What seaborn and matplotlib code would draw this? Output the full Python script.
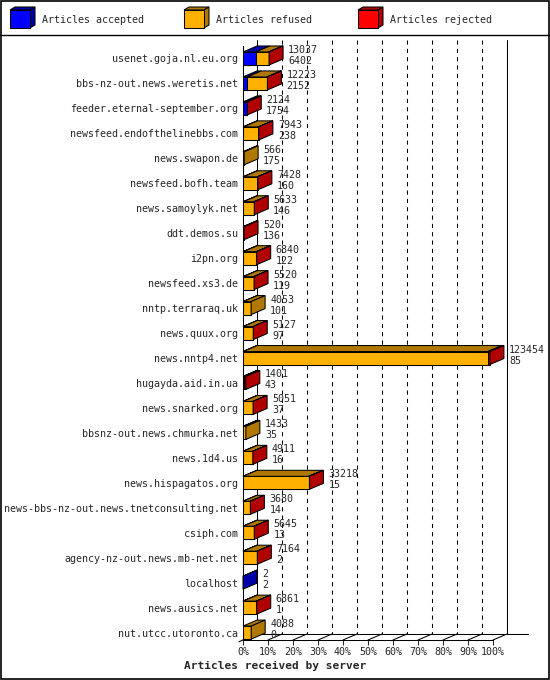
import numpy as np
import matplotlib
matplotlib.use("Agg")
import matplotlib.pyplot as plt
from matplotlib.patches import Polygon, Rectangle
import seaborn as sns

# data
hosts = ['usenet.goja.nl.eu.org', 'bbs-nz-out.news.weretis.net', 'feeder.eternal-september.org',
         'newsfeed.endofthelinebbs.com', 'news.swapon.de', 'newsfeed.bofh.team', 'news.samoylyk.net',
         'ddt.demos.su', 'i2pn.org', 'newsfeed.xs3.de', 'nntp.terraraq.uk', 'news.quux.org',
         'news.nntp4.net', 'hugayda.aid.in.ua', 'news.snarked.org', 'bbsnz-out.news.chmurka.net',
         'news.1d4.us', 'news.hispagatos.org', 'news-bbs-nz-out.news.tnetconsulting.net',
         'csiph.com', 'agency-nz-out.news.mb-net.net', 'localhost', 'news.ausics.net',
         'nut.utcc.utoronto.ca']
total = [13037, 12223, 2124, 7943, 566, 7428, 5633, 520, 6840, 5520, 4053, 5127,
         123454, 1401, 5051, 1433, 4911, 33218, 3680, 5645, 7164, 2, 6861, 4088]
accepted = [6402, 2152, 1754, 238, 175, 160, 146, 136, 122, 119, 101, 97,
            85, 43, 37, 35, 16, 15, 14, 13, 2, 2, 1, 0]
# rejected can't be read exactly, only guessed from the red ends
rejected = [200, 300, 370, 200, 0, 200, 150, 384, 150, 150, 0, 150,
            1000, 700, 150, 0, 150, 300, 150, 150, 150, 0, 150, 0]
pct_labels = ['%d%%' % p for p in range(0, 101, 10)]

total = np.array(total)
accepted = np.array(accepted)
rejected = np.array(rejected)
refused = total - accepted - rejected

XMAX = 125000
col_front = {'acc': '#0000ff', 'ref': '#ffb000', 'rej': '#ff0000'}
col_dark = {'acc': '#0000a8', 'ref': '#b07800', 'rej': '#b00000'}

sns.set_style('white')
plt.rcParams['font.family'] = ['DejaVu Sans Mono']
FS = 7.2
LW = 0.75

fig = plt.figure(figsize=(5.5, 6.8), dpi=100)
ax = fig.add_axes([243 / 550, 40 / 680, 250 / 550, 594 / 680])
ax.set_facecolor('none')

n = len(hosts)
BAR_H = 13 / 24.96
y_top, y_bot = -0.5, 23.297
DX = 14 * XMAX / 250
DY = 6 / 24.96

# front faces: drawn as overlapping stacked bars
sns.barplot(x=total, y=hosts, orient='h', color=col_front['rej'], saturation=1,
            width=BAR_H, edgecolor='black', linewidth=LW, ax=ax, zorder=3)
sns.barplot(x=accepted + refused, y=hosts, orient='h', color=col_front['ref'], saturation=1,
            width=BAR_H, edgecolor='black', linewidth=LW, ax=ax, zorder=3)
sns.barplot(x=accepted, y=hosts, orient='h', color=col_front['acc'], saturation=1,
            width=BAR_H, edgecolor='black', linewidth=LW, ax=ax, zorder=3)

# 3d top and side faces
for i in range(n):
    yt = i - BAR_H / 2
    yb = i + BAR_H / 2
    segs = [('acc', 0, accepted[i]),
            ('ref', accepted[i], accepted[i] + refused[i]),
            ('rej', accepted[i] + refused[i], total[i])]
    last = None
    for key, x0, x1 in segs:
        if x1 <= x0:
            continue
        last = key
        ax.add_patch(Polygon([(x0, yt), (x1, yt), (x1 + DX, yt - DY), (x0 + DX, yt - DY)],
                             closed=True, facecolor=col_dark[key], edgecolor='black',
                             lw=LW, zorder=3, clip_on=False))
    xe = total[i]
    ax.add_patch(Polygon([(xe, yt), (xe + DX, yt - DY), (xe + DX, yb - DY), (xe, yb)],
                         closed=True, facecolor=col_dark[last], edgecolor='black',
                         lw=LW, zorder=3, clip_on=False))
    tx = xe + DX + 5 * XMAX / 250
    ax.text(tx, i - 0.34, str(total[i]), fontsize=FS, va='center', ha='left', zorder=5, clip_on=False)
    ax.text(tx, i + 0.10, str(accepted[i]), fontsize=FS, va='center', ha='left', zorder=5, clip_on=False)

# back wall, grid and floor
wall_top = -0.74
floor_back = y_bot - DY
ticks = np.arange(0, XMAX + 1, XMAX / 10)
for k, xt in enumerate(ticks):
    if 0 < k < 10:
        ax.plot([xt + DX, xt + DX], [wall_top, floor_back], color='black', lw=LW,
                linestyle=(0, (4, 4)), zorder=1, clip_on=False)
    ax.plot([xt, xt + DX], [y_bot, floor_back], color='black', lw=LW, zorder=1, clip_on=False)
ax.plot([DX, DX], [wall_top, floor_back], color='black', lw=LW, zorder=1, clip_on=False)
ax.plot([XMAX + DX, XMAX + DX], [wall_top, floor_back], color='black', lw=LW, zorder=1, clip_on=False)
ax.plot([DX, XMAX + DX + 21 * XMAX / 250], [floor_back, floor_back], color='black', lw=LW,
        zorder=1, clip_on=False)
ax.plot([-0.3 * DX, 0], [y_bot + 0.3 * DY, y_bot], color='black', lw=LW, zorder=1, clip_on=False)

ax.set_xlim(0, XMAX)
ax.set_ylim(y_bot, y_top)
ax.set_xticks(ticks)
ax.set_xticklabels(pct_labels, fontsize=FS)
ax.tick_params(axis='x', length=3.6, width=LW, direction='out', pad=1.5, bottom=True)
ax.tick_params(axis='y', length=0, pad=3.6, labelsize=FS)
ax.set_ylabel('')
ax.set_xlabel('')
for s in ['top', 'right']:
    ax.spines[s].set_visible(False)
for s in ['left', 'bottom']:
    ax.spines[s].set_linewidth(LW)
    ax.spines[s].set_color('black')
ax.grid(False)

# overlay in pixel units for the legend and border
ov = fig.add_axes([0, 0, 1, 1], zorder=-1)
ov.set_xlim(0, 550)
ov.set_ylim(680, 0)
ov.axis('off')
ov.add_patch(Rectangle((0.5, 0.5), 548.5, 678.5, fill=False, edgecolor='black', lw=1.2))
ov.plot([0, 550], [35, 35], color='black', lw=1.0)

leg = [('acc', 'Articles accepted', 10), ('ref', 'Articles refused', 184), ('rej', 'Articles rejected', 358)]
for key, label, x0 in leg:
    w, h, d1, d2 = 20, 18, 5, 3
    y0 = 10
    ov.add_patch(Polygon([(x0, y0), (x0 + d1, y0 - d2), (x0 + w + d1, y0 - d2), (x0 + w, y0)],
                         closed=True, facecolor=col_dark[key], edgecolor='black', lw=LW))
    ov.add_patch(Polygon([(x0 + w, y0), (x0 + w + d1, y0 - d2), (x0 + w + d1, y0 + h - d2), (x0 + w, y0 + h)],
                         closed=True, facecolor=col_dark[key], edgecolor='black', lw=LW))
    ov.add_patch(Rectangle((x0, y0), w, h, facecolor=col_front[key], edgecolor='black', lw=LW))
    ov.text(x0 + 32, 20, label, fontsize=FS, va='center', ha='left')

fig.text(275 / 550, 1 - 666 / 680, 'Articles received by server', ha='center', va='center',
         fontsize=8, fontweight='bold')

fig.savefig('out.png', dpi=100)
